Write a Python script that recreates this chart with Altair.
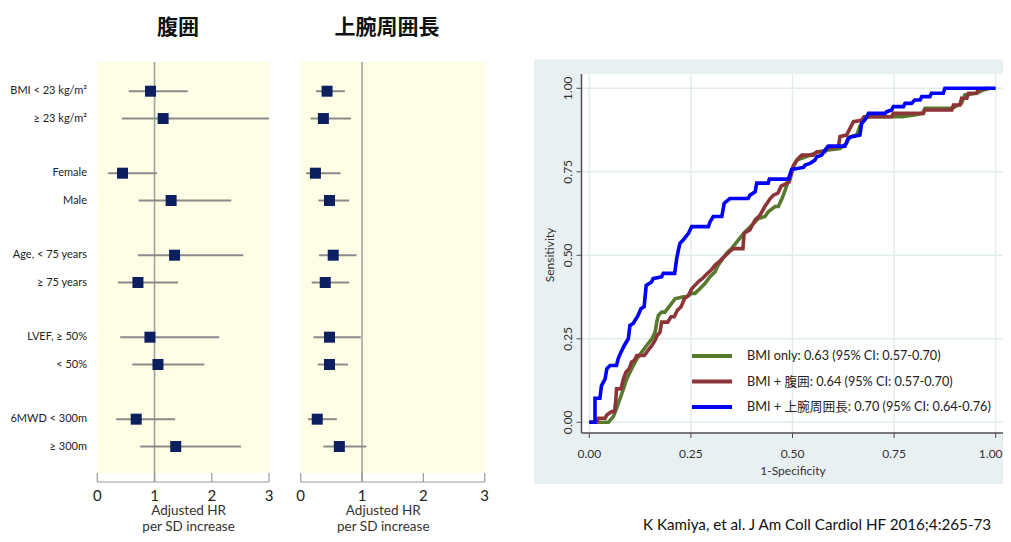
import altair as alt
import pandas as pd

# ---------------- data ----------------
row_labels = ["BMI < 23 kg/m²", "≥ 23 kg/m²", "Female", "Male",
              "Age, < 75 years", "≥ 75 years", "LVEF, ≥ 50%", "< 50%",
              "6MWD < 300m", "≥ 300m"]
row_groups = ["BMI", "BMI", "Sex", "Sex", "Age", "Age", "LVEF", "LVEF", "6MWD", "6MWD"]

# 腹囲 (waist circumference): adjusted HR per SD increase
waist_hr = [0.93, 1.15, 0.44, 1.29, 1.35, 0.71, 0.92, 1.06, 0.68, 1.37]
waist_lo = [0.55, 0.43, 0.19, 0.72, 0.71, 0.36, 0.40, 0.61, 0.33, 0.75]
waist_hi = [1.58, 3.00, 1.04, 2.34, 2.55, 1.41, 2.13, 1.87, 1.36, 2.51]

# 上腕周囲長 (mid-arm circumference)
arm_hr = [0.43, 0.37, 0.24, 0.47, 0.53, 0.40, 0.47, 0.47, 0.27, 0.63]
arm_lo = [0.25, 0.16, 0.09, 0.29, 0.30, 0.18, 0.21, 0.28, 0.12, 0.37]
arm_hi = [0.72, 0.82, 0.65, 0.79, 0.91, 0.79, 0.98, 0.77, 0.59, 1.07]

hr_ticks = [0, 1, 2, 3]
hr_reference = [1]

panel_titles = ["腹囲", "上腕周囲長"]
hr_axis_title = ["Adjusted HR", "per SD increase"]

# ROC curves
model_names = ["BMI only", "BMI + 腹囲", "BMI + 上腕周囲長"]
model_auc = ["0.63 (95% CI: 0.57-0.70)", "0.64 (95% CI: 0.57-0.70)", "0.70 (95% CI: 0.64-0.76)"]
model_colors = ["#587a2e", "#8d3439", "#0000ff"]

fpr_bmi = [0.0, 0.014, 0.047, 0.059, 0.067, 0.076, 0.084, 0.092, 0.104, 0.117, 0.129, 0.141,
           0.154, 0.162, 0.166, 0.17, 0.178, 0.186, 0.199, 0.211, 0.231, 0.24, 0.252, 0.26,
           0.272, 0.285, 0.297, 0.309, 0.317, 0.326, 0.338, 0.35, 0.367, 0.383, 0.40, 0.416,
           0.432, 0.44, 0.457, 0.465, 0.473, 0.482, 0.49, 0.498, 0.51, 0.531, 0.564, 0.588,
           0.617, 0.633, 0.641, 0.658, 0.666, 0.678, 0.69, 0.77, 0.80, 0.82, 0.826, 0.892,
           0.916, 0.924, 0.953, 0.966, 0.985]
tpr_bmi = [0.0, 0.0, 0.0, 0.017, 0.042, 0.072, 0.10, 0.13, 0.16, 0.19, 0.21, 0.23,
           0.25, 0.27, 0.30, 0.32, 0.33, 0.33, 0.35, 0.37, 0.376, 0.376, 0.386, 0.386,
           0.40, 0.416, 0.436, 0.45, 0.47, 0.486, 0.506, 0.52, 0.546, 0.57, 0.59, 0.61,
           0.616, 0.63, 0.646, 0.646, 0.666, 0.695, 0.725, 0.755, 0.785, 0.794, 0.81, 0.815,
           0.82, 0.835, 0.855, 0.86, 0.886, 0.91, 0.915, 0.915, 0.92, 0.925, 0.94, 0.94,
           0.955, 0.98, 0.985, 0.993, 1.0]

fpr_waist = [0.0, 0.018, 0.022, 0.039, 0.043, 0.055, 0.062, 0.065, 0.067, 0.078, 0.084, 0.09,
             0.098, 0.104, 0.111, 0.117, 0.135, 0.145, 0.154, 0.162, 0.167, 0.174, 0.178, 0.193,
             0.201, 0.209, 0.217, 0.226, 0.234, 0.244, 0.252, 0.262, 0.27, 0.278, 0.289, 0.30,
             0.309, 0.319, 0.327, 0.336, 0.344, 0.354, 0.378, 0.381, 0.395, 0.408, 0.42, 0.432,
             0.445, 0.453, 0.464, 0.472, 0.482, 0.492, 0.50, 0.502, 0.514, 0.523, 0.551, 0.56,
             0.58, 0.584, 0.613, 0.617, 0.633, 0.65, 0.67, 0.676, 0.744, 0.748, 0.822, 0.826,
             0.892, 0.896, 0.912, 0.916, 0.929, 0.933, 0.953, 0.957, 0.98]
tpr_waist = [0.0, 0.0, 0.012, 0.012, 0.022, 0.032, 0.032, 0.062, 0.10, 0.10, 0.13, 0.15,
             0.16, 0.18, 0.186, 0.20, 0.20, 0.216, 0.23, 0.246, 0.26, 0.27, 0.30, 0.30,
             0.316, 0.316, 0.336, 0.346, 0.37, 0.38, 0.40, 0.413, 0.423, 0.43, 0.444, 0.456,
             0.47, 0.48, 0.49, 0.50, 0.51, 0.52, 0.52, 0.566, 0.576, 0.606, 0.62, 0.646,
             0.67, 0.68, 0.686, 0.707, 0.713, 0.72, 0.755, 0.768, 0.79, 0.80, 0.80, 0.81,
             0.81, 0.82, 0.826, 0.856, 0.86, 0.90, 0.904, 0.915, 0.915, 0.925, 0.925, 0.935,
             0.935, 0.95, 0.95, 0.97, 0.97, 0.985, 0.985, 0.995, 1.0]

fpr_arm = [0.0, 0.014, 0.014, 0.026, 0.03, 0.039, 0.043, 0.051, 0.067, 0.071, 0.078, 0.086,
           0.096, 0.10, 0.108, 0.12, 0.127, 0.135, 0.14, 0.153, 0.157, 0.178, 0.182, 0.21,
           0.215, 0.22, 0.223, 0.231, 0.244, 0.252, 0.293, 0.297, 0.305, 0.326, 0.332, 0.346,
           0.391, 0.395, 0.408, 0.412, 0.44, 0.443, 0.49, 0.498, 0.527, 0.531, 0.543, 0.555,
           0.56, 0.572, 0.58, 0.588, 0.629, 0.637, 0.646, 0.666, 0.67, 0.678, 0.687, 0.728,
           0.732, 0.744, 0.748, 0.773, 0.777, 0.793, 0.801, 0.814, 0.818, 0.838, 0.842, 0.871,
           0.875, 1.0]
tpr_arm = [0.0, 0.0, 0.072, 0.072, 0.11, 0.13, 0.16, 0.17, 0.17, 0.19, 0.21, 0.23,
           0.25, 0.29, 0.296, 0.32, 0.34, 0.346, 0.41, 0.42, 0.43, 0.436, 0.446, 0.446,
           0.49, 0.52, 0.536, 0.546, 0.566, 0.586, 0.586, 0.60, 0.616, 0.616, 0.656, 0.67,
           0.67, 0.68, 0.69, 0.716, 0.716, 0.728, 0.728, 0.757, 0.763, 0.77, 0.775, 0.785,
           0.795, 0.80, 0.815, 0.827, 0.827, 0.85, 0.855, 0.86, 0.895, 0.905, 0.925, 0.925,
           0.93, 0.935, 0.945, 0.945, 0.955, 0.955, 0.965, 0.965, 0.975, 0.975, 0.985, 0.985,
           1.0, 1.0]

roc_ticks = [0.0, 0.25, 0.5, 0.75, 1.0]
roc_x_title = "1-Specificity"
roc_y_title = "Sensitivity"
citation = "K Kamiya, et al. J Am Coll Cardiol HF 2016;4:265-73"

# ---------------- styling ----------------
W, H = 995, 526
FONT = "Lato, Noto Sans CJK JP, sans-serif"
CJK = "Noto Sans CJK JP"
YELLOW = "#fefee6"
NAVY = "#0c1f5e"
CI_GRAY = "#8a8a8a"
REF_GRAY = "#a3a3a3"
AXIS_GRAY = "#9a9a9a"
ROC_BG = "#e9f0f2"
GRID = "#e2ebee"
ROC_AXIS = "#4f4f4f"
TXT = "#222222"

one = pd.DataFrame({"k": [0]})

# y positions: one point per subgroup row, blank slot between groups
y_domain = []
for i, lab in enumerate(row_labels):
    if i > 0 and row_groups[i] != row_groups[i - 1]:
        y_domain.append(f"_gap{i}")
    y_domain.append(lab)
forest_y = alt.Scale(type="point", domain=y_domain, range=[83.2, 438.5], padding=0)


def forest(hr, lo, hi, x_range, show_labels, title_x):
    xs = alt.Scale(domain=[hr_ticks[0], hr_ticks[-1]], range=x_range, clamp=True,
                   nice=False, zero=False)
    df = pd.DataFrame({"label": row_labels, "hr": hr, "lo": lo, "hi": hi})
    span = pd.DataFrame({"x0": [hr_ticks[0]], "x1": [hr_ticks[-1]]})
    ticks = pd.DataFrame({"t": hr_ticks})
    ref = pd.DataFrame({"r": hr_reference})

    bg = alt.Chart(span).mark_rect(color=YELLOW).encode(
        x=alt.X("x0:Q", scale=xs, axis=None), x2="x1:Q",
        y=alt.value(54), y2=alt.value(465))
    refl = alt.Chart(ref).mark_rule(color=REF_GRAY, strokeWidth=1.6).encode(
        x=alt.X("r:Q", scale=xs, axis=None), y=alt.value(54), y2=alt.value(474))
    ci = alt.Chart(df).mark_rule(color=CI_GRAY, strokeWidth=2).encode(
        x=alt.X("lo:Q", scale=xs, axis=None), x2="hi:Q",
        y=alt.Y("label:N", scale=forest_y, axis=None))
    pt = alt.Chart(df).mark_square(size=121, color=NAVY, opacity=1, filled=True).encode(
        x=alt.X("hr:Q", scale=xs, axis=None),
        y=alt.Y("label:N", scale=forest_y, axis=None))
    dom = alt.Chart(span).mark_rule(color=AXIS_GRAY, strokeWidth=1.2).encode(
        x=alt.X("x0:Q", scale=xs, axis=None), x2="x1:Q", y=alt.value(474))
    tk = alt.Chart(ticks).mark_rule(color=AXIS_GRAY, strokeWidth=1.2).encode(
        x=alt.X("t:Q", scale=xs, axis=None), y=alt.value(465), y2=alt.value(474))
    tl = alt.Chart(ticks).mark_text(font=FONT, fontSize=15, color=TXT, baseline="middle").encode(
        x=alt.X("t:Q", scale=xs, axis=None), y=alt.value(488), text="t:Q")
    t1 = alt.Chart(one).mark_text(font=FONT, fontSize=13.5, color="#333333", baseline="middle").encode(
        x=alt.value(title_x), y=alt.value(503), text=alt.value(hr_axis_title[0]))
    t2 = alt.Chart(one).mark_text(font=FONT, fontSize=13.5, color="#333333", baseline="middle").encode(
        x=alt.value(title_x), y=alt.value(518.5), text=alt.value(hr_axis_title[1]))
    layers = [bg, refl, ci, pt, dom, tk, tl, t1, t2]
    if show_labels:
        lab = alt.Chart(df).mark_text(font=FONT, fontSize=11, color=TXT, align="right",
                                      baseline="middle").encode(
            x=alt.value(79), y=alt.Y("label:N", scale=forest_y, axis=None), text="label:N")
        layers.append(lab)
    return alt.layer(*layers)


panel_a = forest(waist_hr, waist_lo, waist_hi, [89.3, 261.0], True, 180.6)
panel_b = forest(arm_hr, arm_lo, arm_hi, [292.7, 476.7], False, 375.3)

# ---------------- ROC panel ----------------
rx = alt.Scale(domain=[0, 1], range=[581.3, 987.7], nice=False, zero=False)
ry = alt.Scale(domain=[0, 1], range=[414.3, 80.3], nice=False, zero=False)
rt = pd.DataFrame({"t": roc_ticks})
rt_inner = pd.DataFrame({"t": roc_ticks[:-1]})
rt_last = pd.DataFrame({"t": roc_ticks[-1:]})

roc_bg = alt.Chart(one).mark_rect(color=ROC_BG).encode(
    x=alt.value(526), x2=alt.value(W), y=alt.value(51.5), y2=alt.value(476))
roc_white = alt.Chart(one).mark_rect(color="white").encode(
    x=alt.value(574), x2=alt.value(995), y=alt.value(66), y2=alt.value(425))
vgrid = alt.Chart(rt).mark_rule(color=GRID, strokeWidth=1.5).encode(
    x=alt.X("t:Q", scale=rx, axis=None), y=alt.value(66), y2=alt.value(425))
hgrid = alt.Chart(rt).mark_rule(color=GRID, strokeWidth=1.5).encode(
    y=alt.Y("t:Q", scale=ry, axis=None), x=alt.value(574), x2=alt.value(995))
xaxis = alt.Chart(one).mark_rule(color=ROC_AXIS, strokeWidth=1.5).encode(
    x=alt.value(573.5), x2=alt.value(995), y=alt.value(425))
yaxis = alt.Chart(one).mark_rule(color=ROC_AXIS, strokeWidth=1.5).encode(
    x=alt.value(573.5), y=alt.value(66), y2=alt.value(425))
xtk = alt.Chart(rt).mark_rule(color=ROC_AXIS, strokeWidth=1).encode(
    x=alt.X("t:Q", scale=rx, axis=None), y=alt.value(425), y2=alt.value(430))
ytk = alt.Chart(rt).mark_rule(color=ROC_AXIS, strokeWidth=1).encode(
    y=alt.Y("t:Q", scale=ry, axis=None), x=alt.value(568.5), x2=alt.value(573.5))
xtl = alt.Chart(rt_inner).mark_text(font=FONT, fontSize=12, color="#333333", baseline="middle").encode(
    x=alt.X("t:Q", scale=rx, axis=None), y=alt.value(446), text=alt.Text("t:Q", format=".2f"))
xtl_last = alt.Chart(rt_last).mark_text(font=FONT, fontSize=12, color="#333333", baseline="middle",
                                        dx=-5).encode(
    x=alt.X("t:Q", scale=rx, axis=None), y=alt.value(446), text=alt.Text("t:Q", format=".2f"))
ytl = alt.Chart(rt).mark_text(font=FONT, fontSize=12, color="#333333", baseline="middle",
                              angle=270).encode(
    y=alt.Y("t:Q", scale=ry, axis=None), x=alt.value(560), text=alt.Text("t:Q", format=".2f"))
xtt = alt.Chart(one).mark_text(font=FONT, fontSize=12, color="#333333", baseline="middle").encode(
    x=alt.value(785), y=alt.value(463), text=alt.value(roc_x_title))
ytt = alt.Chart(one).mark_text(font=FONT, fontSize=12, color="#333333", baseline="middle",
                               angle=270).encode(
    x=alt.value(542), y=alt.value(247), text=alt.value(roc_y_title))

curves = []
for name, fx, ty, col in zip(model_names, [fpr_bmi, fpr_waist, fpr_arm],
                             [tpr_bmi, tpr_waist, tpr_arm], model_colors):
    d = pd.DataFrame({"fpr": fx, "tpr": ty, "idx": list(range(len(fx)))})
    curves.append(alt.Chart(d).mark_line(color=col, strokeWidth=3.6, strokeJoin="miter",
                                         strokeCap="butt").encode(
        x=alt.X("fpr:Q", scale=rx, axis=None),
        y=alt.Y("tpr:Q", scale=ry, axis=None),
        order="idx:Q"))

panel_c = alt.layer(roc_bg, roc_white, vgrid, hgrid, *curves, xaxis, yaxis, xtk, ytk,
                    xtl, xtl_last, ytl, xtt, ytt)

# legend inside ROC plot
leg_df = pd.DataFrame({"model": model_names,
                       "text": [f"{n}: {a}" for n, a in zip(model_names, model_auc)]})
ly = alt.Scale(type="point", domain=model_names, range=[348, 399], padding=0)
cs = alt.Scale(domain=model_names, range=model_colors)
leg_line = alt.Chart(leg_df).mark_rule(strokeWidth=4).encode(
    x=alt.value(684), x2=alt.value(724),
    y=alt.Y("model:N", scale=ly, axis=None),
    color=alt.Color("model:N", scale=cs, legend=None))
leg_txt = alt.Chart(leg_df).mark_text(font=FONT, fontSize=12.7, color=TXT, align="left",
                                      baseline="middle").encode(
    x=alt.value(739), y=alt.Y("model:N", scale=ly, axis=None), text="text:N")
panel_d = alt.layer(leg_line, leg_txt)

# titles and citation
ttl1 = alt.Chart(one).mark_text(font=CJK, fontSize=21, fontWeight="bold", color="#111111",
                                baseline="middle").encode(
    x=alt.value(170), y=alt.value(20), text=alt.value(panel_titles[0]))
ttl2 = alt.Chart(one).mark_text(font=CJK, fontSize=21, fontWeight="bold", color="#111111",
                                baseline="middle").encode(
    x=alt.value(379), y=alt.value(20), text=alt.value(panel_titles[1]))
cite = alt.Chart(one).mark_text(font=FONT, fontSize=15.2, color="#111111", align="left",
                                baseline="middle").encode(
    x=alt.value(635), y=alt.value(517), text=alt.value(citation))

chart = alt.layer(panel_a, panel_b, panel_c, panel_d, ttl1, ttl2, cite).resolve_scale(
    x="independent", y="independent", color="independent"
).properties(
    width=W, height=H, padding=0,
    autosize=alt.AutoSizeParams(type="none"),
    background="white",
).configure_view(stroke=None)

chart.save("out.html", embed_options={"renderer": "svg", "actions": False})
